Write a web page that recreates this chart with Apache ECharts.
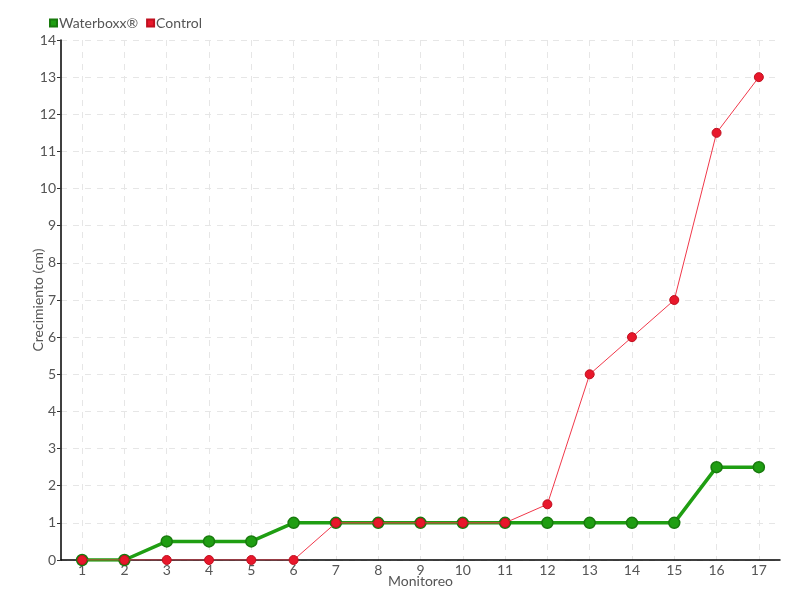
<!DOCTYPE html>
<html>
<head>
<meta charset="utf-8">
<script src="https://cdn.jsdelivr.net/npm/echarts@6/dist/echarts.min.js"></script>
<style>
  html, body { margin: 0; padding: 0; background: #fff; }
  #chart { width: 800px; height: 600px; }
</style>
</head>
<body>
<div id="chart"></div>
<script>
const monitoreo = ['1', '2', '3', '4', '5', '6', '7', '8', '9', '10', '11', '12', '13', '14', '15', '16', '17']
const waterboxx = [0, 0, 0.5, 0.5, 0.5, 1, 1, 1, 1, 1, 1, 1, 1, 1, 1, 2.5, 2.5]
const control = [0, 0, 0, 0, 0, 0, 1, 1, 1, 1, 1, 1.5, 5, 6, 7, 11.5, 13]

const font = 'Lato, sans-serif'
const textGray = '#555'

const chart = echarts.init(document.getElementById('chart'))
const option = {
  backgroundColor: '#fff',
  textStyle: { fontFamily: font },
  legend: {
    left: 44,
    top: 11,
    itemWidth: 7,
    itemHeight: 7,
    itemGap: 8,
    icon: 'rect',
    textStyle: { color: textGray, fontSize: 14, fontFamily: font, padding: [0, 0, 0, -3] },
    data: ['Waterboxx®', 'Control'],
  },
  grid: {
    left: 61,
    right: 20,
    top: 40,
    bottom: 40,
    outerBoundsMode: 'none',
  },
  xAxis: {
    type: 'category',
    data: monitoreo,
    boundaryGap: true,
    name: 'Monitoreo',
    nameLocation: 'middle',
    nameGap: 14,
    nameMoveOverlap: false,
    nameTextStyle: { color: textGray, fontSize: 14, fontFamily: font },
    axisLine: { lineStyle: { color: '#000', width: 1.5 } },
    axisTick: { alignWithLabel: true, length: 4, lineStyle: { color: '#333' } },
    axisLabel: { color: textGray, fontSize: 14, margin: 3, fontFamily: font },
    splitLine: { show: true, alignWithLabel: true, lineStyle: { color: '#e6e6e6', type: [6, 6] } },
  },
  yAxis: {
    type: 'value',
    min: 0,
    max: 14,
    interval: 1,
    name: 'Crecimiento (cm)',
    nameLocation: 'middle',
    nameGap: 16,
    nameMoveOverlap: false,
    nameTextStyle: { color: textGray, fontSize: 14, fontFamily: font },
    axisLine: { show: true, lineStyle: { color: '#000', width: 1.5 } },
    axisTick: { show: true, length: 4, lineStyle: { color: '#333' } },
    axisLabel: { color: textGray, fontSize: 14, margin: 5, fontFamily: font },
    splitLine: { show: true, lineStyle: { color: '#e6e6e6', type: [6, 6] } },
  },
  series: [
    {
      name: 'Waterboxx®',
      type: 'line',
      data: waterboxx,
      symbol: 'circle',
      symbolSize: 11,
      color: '#1f9e12',
      lineStyle: { color: '#1f9e12', width: 3.5 },
      itemStyle: { color: '#1f9e12', borderColor: '#187a0d', borderWidth: 1.5 },
      z: 2,
    },
    {
      name: 'Control',
      type: 'line',
      data: control,
      symbol: 'circle',
      symbolSize: 9,
      color: '#e8172b',
      lineStyle: { color: '#f0384a', width: 1 },
      itemStyle: { color: '#e8172b', borderColor: '#c0101f', borderWidth: 1 },
      z: 3,
    },
  ],
}
chart.setOption(option)
</script>
</body>
</html>
